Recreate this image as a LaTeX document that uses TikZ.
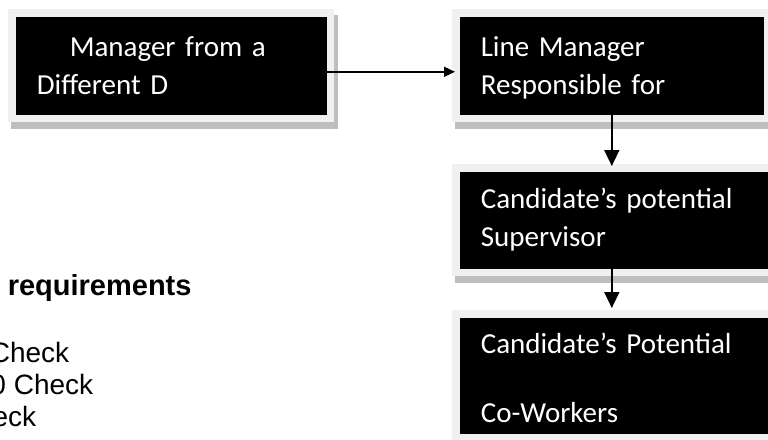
\documentclass[tikz,border=0pt]{standalone}
\usepackage{fontspec}
\setmainfont{Carlito}
\newfontfamily\reqfont{Liberation Sans}
\usetikzlibrary{arrows.meta,shadows}
\definecolor{framegray}{HTML}{F0F0F0}
\definecolor{shadowgray}{HTML}{BEBEBE}
\tikzset{
	stagebox/.style 2 args={fill=black,text=white,anchor=north west,align=left,
		text width=#1,minimum height=#2,inner xsep=21pt,inner ysep=0pt,
		font=\fontsize{29}{38}\selectfont,
		drop shadow={shadow xshift=3.5pt,shadow yshift=-6.5pt,fill=shadowgray,draw=shadowgray,line width=16pt,opacity=1},
		preaction={draw=framegray,line width=15pt}},
	reqline/.style={inner sep=0pt,anchor=base east,font=\reqfont\fontsize{28}{32}\selectfont}
}
\begin{document}
\begin{tikzpicture}[>={Triangle[width=15pt,length=16pt]},line width=1.6pt,x=1pt,y=-1pt]
		\useasboundingbox (0,0) rectangle (768,439);
		\clip (0,0) rectangle (768,439);
		% boxes
		\node[stagebox={269pt}{98pt}] (dept) at (15,16) {\rule{0pt}{30.6pt}\hspace*{33pt}Manager from a\\\strut Different D};
		\node[stagebox={262pt}{98pt}] (linemgr) at (459,16) {\rule{0pt}{30.6pt}Line Manager\\\strut Responsible for};
		\node[stagebox={274pt}{97pt}] (super) at (459,171) {\strut Candidate’s potential\\\strut Supervisor};
		\node[stagebox={274pt}{116pt}] (cowork) at (459,317) {\rule{0pt}{36pt}Candidate’s Potential\\[31pt]\strut Co-Workers};
		% arrows
		\draw[-{Triangle[width=10pt,length=11pt]},shorten <=-3pt,shorten >=4pt] ([yshift=-6pt]dept.east) -- ([yshift=-6pt]linemgr.west);
		\draw[->,shorten <=-4pt,shorten >=5pt] (linemgr.south) -- (linemgr.south |- super.north);
		\draw[->,shorten <=-5pt,shorten >=9pt] (linemgr.south |- super.south) -- (linemgr.south |- cowork.north);
		% requirements text
		\node[reqline,anchor=base west,font=\reqfont\bfseries\fontsize{29}{32}\selectfont] (req) at (7,295) {requirements};
		\node[reqline] (chka) at (70,362) {Check};
		\node[reqline] (chkb) at (94,394) {0 Check};
		\node[reqline] (chkc) at (37,426) {eck};
		
		\end{tikzpicture}
\end{document}
